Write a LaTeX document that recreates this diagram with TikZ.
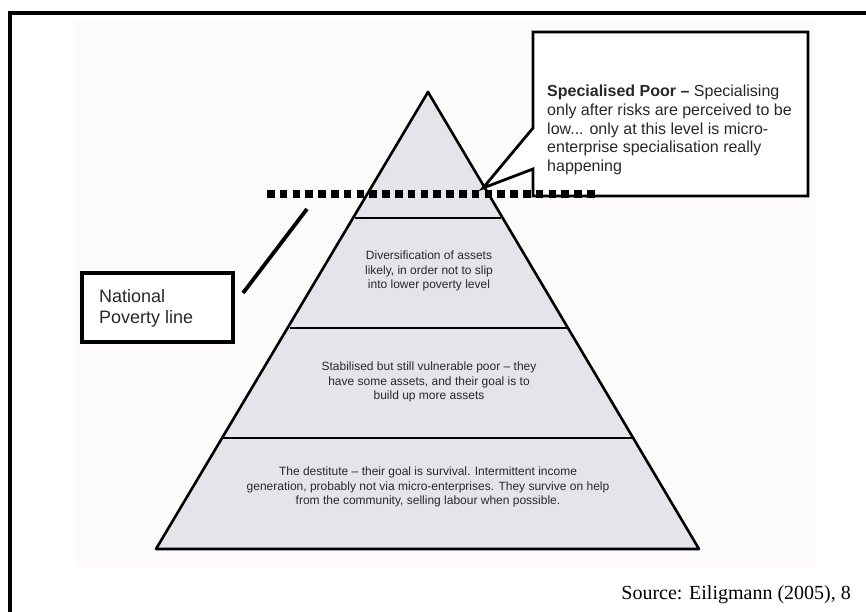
\documentclass[tikz,border=0pt]{standalone}
\usepackage{fontspec}
\setmainfont{Liberation Sans}
\newfontfamily\srcfont{Liberation Serif}
\definecolor{pyrfill}{RGB}{230,228,235}
\definecolor{bgtint}{RGB}{253,250,251}
\definecolor{txtgray}{RGB}{40,40,40}
\tikzset{
  pyrline/.style={line width=2.6pt, line join=round},
  bandline/.style={line width=2pt},
  bandtext/.style={align=center, inner sep=0pt, text=txtgray, font=\fontsize{12}{14.5}\selectfont},
  boxframe/.style={line width=3.3pt, fill=white},
  povline/.style={line width=8pt, dash pattern=on 7.5pt off 5.3pt},
}
\begin{document}
\begin{tikzpicture}[x=1pt,y=-1pt]
\useasboundingbox (0,0) rectangle (866,612);
% outer frame
\draw[line width=3.2pt] (10,612) -- (10,13) -- (866,13);
% faint background of the inner picture
\fill[bgtint] (75,20) rectangle (815,567);
% pyramid
\coordinate (apex) at (428,92);
\coordinate (bl) at (156,549);
\coordinate (br) at (699,549);
\fill[pyrfill] (apex) -- (bl) -- (br) -- cycle;
\draw[bandline] (355,218) -- (501,218);
\draw[bandline] (290,328) -- (567,328);
\draw[bandline] (223,438) -- (633,438);
\draw[pyrline] (apex) -- (bl) -- (br) -- cycle;
% callout box
\coordinate (tip) at (483,188);
\draw[boxframe, line width=2.8pt, line join=miter]
  (533,32) -- (808,32) -- (808,196) -- (533,196) -- (533,169) -- (tip) -- (533,128) -- cycle;
\node[anchor=north west, inner sep=0pt, align=left, text=txtgray,
      font=\fontsize{16}{18.7}\selectfont] (spec) at (547,85)
  {\textbf{Specialised Poor –} Specialising\\
   only after risks are perceived to be\\
   low... only at this level is micro-\\
   enterprise specialisation really\\
   happening};
% poverty line
\coordinate (povL) at (267,194);
\coordinate (povR) at (598,194);
\draw[povline] (povL) -- (povR);
% national poverty line box
\draw[boxframe] (82,273) rectangle (233,342);
\node[anchor=north west, inner sep=0pt, align=left, text=txtgray,
      font=\fontsize{18}{21}\selectfont] (natl) at (99,289)
  {National\\Poverty line};
\coordinate (s1) at (243,293);
\coordinate (s2) at (307,209);
\draw[line width=3.8pt] (s1) -- (s2);
% band texts
\node[bandtext] (band2) at (429,271)
  {Diversification of assets\\likely, in order not to slip\\into lower poverty level};
\node[bandtext] (band3) at (429,382)
  {Stabilised but still vulnerable poor – they\\have some assets, and their goal is to\\build up more assets};
\node[bandtext] (band4) at (428,487)
  {The destitute – their goal is survival. Intermittent income\\generation, probably not via micro-enterprises. They survive on help\\from the community, selling labour when possible.};
% source
\node[anchor=base east, inner sep=0pt, font=\srcfont\fontsize{20}{24}\selectfont] (src) at (851,599)
  {Source: Eiligmann (2005), 8};
\end{tikzpicture}
\end{document}
